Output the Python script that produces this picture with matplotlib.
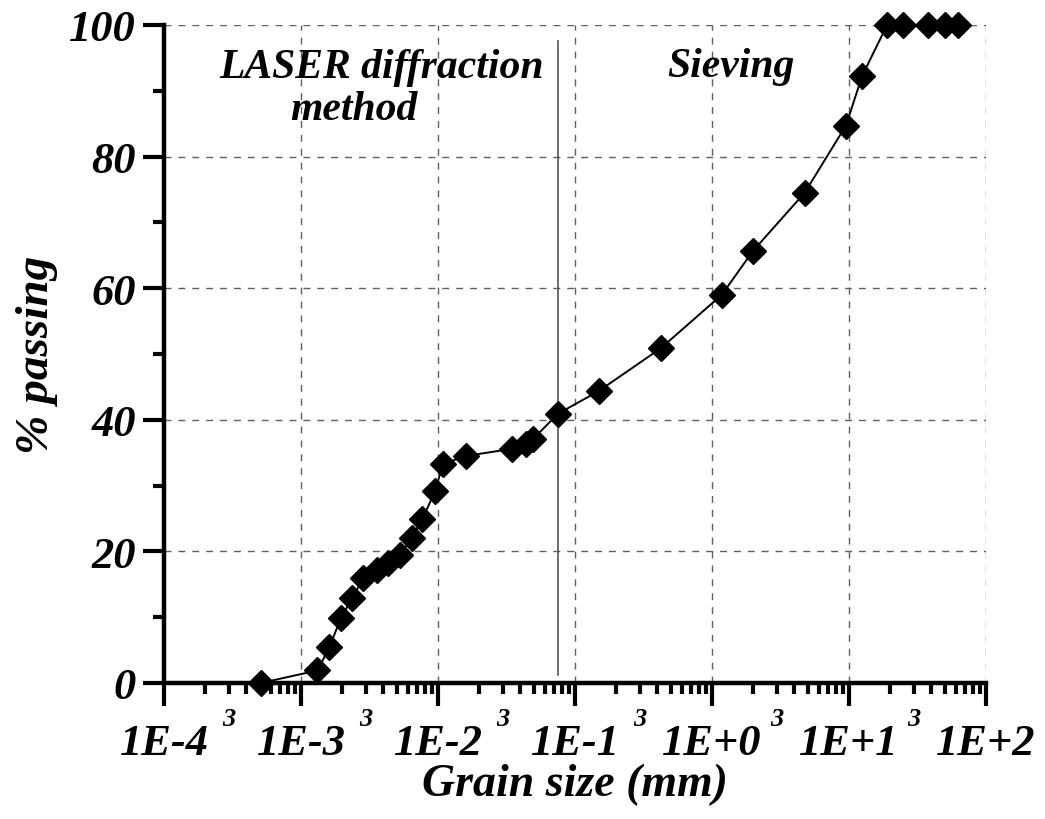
import numpy as np
import matplotlib
matplotlib.use("Agg")
import matplotlib.pyplot as plt
from matplotlib.font_manager import FontProperties
from matplotlib.ticker import LogLocator, FuncFormatter, MultipleLocator

# Curva granulométrica: láser para la fracción fina, tamizado para la gruesa
tamanio_mm = [5.1e-4, 1.32e-3, 1.61e-3, 1.96e-3, 2.37e-3, 2.85e-3, 3.57e-3,
              4.3e-3, 5.3e-3, 6.43e-3, 7.7e-3, 9.5e-3, 1.09e-2, 1.6e-2,
              3.5e-2, 4.4e-2, 4.96e-2, 0.075,
              0.15, 0.425, 1.18, 2.0, 4.75, 9.5, 12.5, 19.0, 25.0, 37.5, 50.0, 63.0]
pasante = [0.0, 1.9, 5.4, 9.9, 12.9, 15.9, 17.1,
           18.2, 19.5, 22.1, 24.9, 29.1, 33.3, 34.5,
           35.6, 36.3, 37.1, 40.9,
           44.4, 50.9, 59.0, 65.7, 74.5, 84.7, 92.3, 100.0, 100.0, 100.0, 100.0, 100.0]

limite_tamiz = 0.075
decadas = [1e-4, 1e-3, 1e-2, 1e-1, 1e0, 1e1, 1e2]
etiquetas_x = ["1E-4", "1E-3", "1E-2", "1E-1", "1E+0", "1E+1", "1E+2"]

fuente = dict(family="Liberation Serif", weight="bold", style="italic")

fig = plt.figure(figsize=(10.45, 8.2), dpi=100)
ax = fig.add_axes([0.1569, 0.1659, 0.9435 - 0.1569, 0.9683 - 0.1659])

ax.set_xscale("log")
ax.set_xlim(1e-4, 1e2)
ax.set_ylim(0, 100)

# grilla punteada gris
ax.grid(True, which="major", color="#606060", linestyle=(0, (5, 5)), lw=1.0)
ax.set_axisbelow(True)

ax.plot(tamanio_mm, pasante, color="black", lw=1.4, marker="D", ms=13.5,
        mfc="black", mec="black", clip_on=False, zorder=5)

# línea divisoria entre ambos métodos
ax.plot([limite_tamiz, limite_tamiz], [1.2, 97.6], color="#555555", lw=1.2, zorder=3)

for lado in ["top", "right"]:
    ax.spines[lado].set_visible(False)
for lado in ["left", "bottom"]:
    ax.spines[lado].set_linewidth(3.2)

ax.set_xticks(decadas)
ax.set_xticklabels(etiquetas_x)
ax.xaxis.set_minor_locator(LogLocator(base=10, subs=np.arange(2, 10), numticks=20))
ax.xaxis.set_minor_formatter(FuncFormatter(
    lambda v, p: "3" if abs(v / 10 ** np.floor(np.log10(v) + 1e-9) - 3) < 1e-6 else ""))

ax.yaxis.set_major_locator(MultipleLocator(20))
ax.yaxis.set_minor_locator(MultipleLocator(10))

ax.tick_params(axis="x", which="major", direction="out", length=16.5, width=3, pad=12)
ax.tick_params(axis="x", which="minor", direction="out", length=8, width=3, pad=9)
ax.tick_params(axis="y", which="major", direction="out", length=15, width=3, pad=5)
ax.tick_params(axis="y", which="minor", direction="out", length=8, width=3)

for t in ax.get_xticklabels():
    t.set_fontproperties(FontProperties(size=32, **fuente))
for t in ax.get_xticklabels(minor=True):
    t.set_fontproperties(FontProperties(size=19, **fuente))
for t in ax.get_yticklabels():
    t.set_fontproperties(FontProperties(size=32, **fuente))

ax.set_xlabel("Grain size (mm)", fontsize=33, labelpad=0, **fuente)
ax.set_ylabel("% passing", fontsize=34, labelpad=8, **fuente)

ax.text(382 / 1045, 1 - 78 / 820, "LASER diffraction", transform=fig.transFigure,
        ha="center", va="baseline", fontsize=30, **fuente)
ax.text(354 / 1045, 1 - 120 / 820, "method", transform=fig.transFigure,
        ha="center", va="baseline", fontsize=30, **fuente)
ax.text(731 / 1045, 1 - 77 / 820, "Sieving", transform=fig.transFigure,
        ha="center", va="baseline", fontsize=30, **fuente)

fig.savefig("out.png", dpi=100, facecolor="white")
